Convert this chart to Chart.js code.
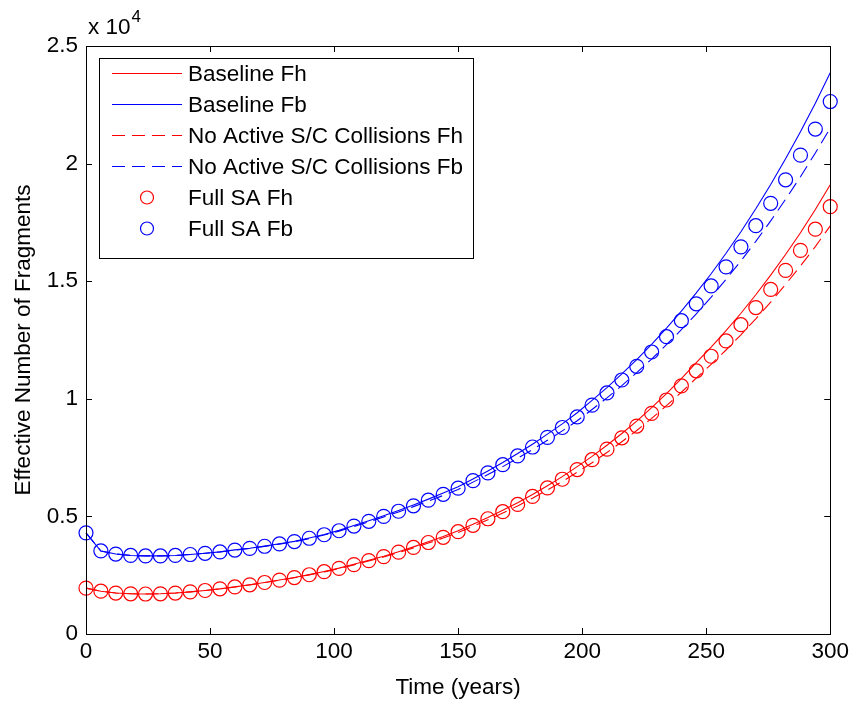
<!DOCTYPE html>
<html>
<head>
<meta charset="utf-8">
<script src="https://cdn.jsdelivr.net/npm/chart.js@4.4.1/dist/chart.umd.min.js"></script>
<style>
  html, body { margin: 0; padding: 0; background: #ffffff; }
  #wrap { width: 853px; height: 703px; }
</style>
</head>
<body>
<div id="wrap"><canvas id="fragChart" width="853" height="703"></canvas></div>
<script>
// --- dados (anos, numero efectivo de fragmentos) ---
const years = [0, 6, 12, 18, 24, 30, 36, 42, 48, 54, 60, 66, 72, 78, 84, 90, 96, 102, 108, 114, 120,
  126, 132, 138, 144, 150, 156, 162, 168, 174, 180, 186, 192, 198, 204, 210, 216, 222, 228, 234, 240,
  246, 252, 258, 264, 270, 276, 282, 288, 294, 300];

const baselineFh = [1950, 1820, 1740, 1710, 1700, 1710, 1740, 1790, 1850, 1920, 2002, 2092, 2193, 2294, 2405, 2526, 2658, 2800, 2962, 3134, 3307,
  3500, 3704, 3918, 4143, 4389, 4666, 4953, 5262, 5582, 5933, 6306, 6690, 7116, 7554, 8024, 8527, 9052, 9621, 10223, 10858,
  11538, 12200, 12896, 13637, 14424, 15257, 16136, 17062, 18045, 19097];

const baselineFb = [4300, 3530, 3400, 3340, 3320, 3320, 3340, 3380, 3430, 3490, 3575, 3645, 3736, 3837, 3939, 4081, 4233, 4406, 4609, 4813, 5027,
  5252, 5488, 5734, 5991, 6259, 6589, 6929, 7291, 7675, 8070, 8497, 8935, 9406, 9930, 10477, 11057, 11669, 12316, 13007, 13732,
  14502, 15317, 16188, 17105, 18080, 19112, 20204, 21354, 22571, 23863];

const noActiveFh = [1950, 1820, 1740, 1710, 1700, 1710, 1740, 1790, 1850, 1920, 1998, 2088, 2187, 2286, 2395, 2514, 2643, 2782, 2940, 3108, 3275,
  3462, 3659, 3865, 4080, 4315, 4579, 4853, 5145, 5447, 5776, 6125, 6483, 6879, 7283, 7715, 8175, 8653, 9167, 9709, 10278,
  10883, 11466, 12075, 12720, 13400, 14115, 14863, 15648, 16473, 17352];

const noActiveFb = [4300, 3530, 3400, 3340, 3320, 3320, 3340, 3380, 3430, 3490, 3567, 3636, 3725, 3823, 3922, 4060, 4208, 4375, 4572, 4769, 4975,
  5190, 5415, 5649, 5892, 6145, 6457, 6777, 7116, 7473, 7839, 8234, 8636, 9067, 9544, 10040, 10562, 11111, 11688, 12300, 12939,
  13613, 14322, 15075, 15862, 16693, 17567, 18483, 19442, 20450, 21508];

const fullSAFh = [1950, 1820, 1740, 1710, 1700, 1710, 1740, 1790, 1850, 1920, 2000, 2090, 2190, 2290, 2400, 2520, 2650, 2790, 2950, 3120, 3290,
  3480, 3680, 3890, 4110, 4350, 4620, 4900, 5200, 5510, 5850, 6210, 6580, 6990, 7410, 7860, 8340, 8840, 9380, 9950, 10550,
  11190, 11810, 12460, 13150, 13880, 14650, 15460, 16310, 17210, 18170];

const fullSAFb = [4300, 3530, 3400, 3340, 3320, 3320, 3340, 3380, 3430, 3490, 3570, 3640, 3730, 3830, 3930, 4070, 4220, 4390, 4590, 4790, 5000,
  5220, 5450, 5690, 5940, 6200, 6520, 6850, 7200, 7570, 7950, 8360, 8780, 9230, 9730, 10250, 10800, 11380, 11990, 12640, 13320,
  14040, 14800, 15610, 16460, 17360, 18310, 19310, 20360, 21470, 22640];

const xTicks = [0, 50, 100, 150, 200, 250, 300];
const yTicks = [0, 5000, 10000, 15000, 20000, 25000];

// cores estilo MATLAB
const colors = {
    red: '#ff0000',
    blue: '#0000ff',
    axis: '#000000',
    text: '#000000'
};
const fontFamily = '"Liberation Sans", Arial, sans-serif';
const fontSize = 22.5;

function toPoints(ys) {
    return years.map((t, i) => ({ x: t, y: ys[i] }));
}

function lineSet(label, ys, color, dashed) {
    return {
        label: label,
        data: toPoints(ys),
        borderColor: color,
        backgroundColor: color,
        borderWidth: 1.1,
        borderDash: dashed ? [13, 7] : [],
        pointRadius: 0,
        tension: 0,
        fill: false,
        clip: false
    };
}

function markerSet(label, ys, color) {
    return {
        label: label,
        data: toPoints(ys),
        borderColor: color,
        backgroundColor: 'rgba(0,0,0,0)',
        borderWidth: 1.2,
        pointStyle: 'circle',
        pointRadius: 7,
        showLine: false,
        clip: false
    };
}

// caixa, marcas para dentro, legenda e o "x 10^4"
const matlabDecor = {
    id: 'matlabDecor',
    afterDatasetsDraw(chart) {
        const ctx = chart.ctx;
        const a = chart.chartArea;
        const xs = chart.scales.x;
        const ys = chart.scales.y;
        const tick = 6;

        ctx.save();
        ctx.strokeStyle = colors.axis;
        ctx.lineWidth = 1;
        ctx.setLineDash([]);
        ctx.beginPath();
        xTicks.forEach(v => {
            const px = Math.round(xs.getPixelForValue(v)) + 0.5;
            ctx.moveTo(px, a.bottom); ctx.lineTo(px, a.bottom - tick);
            ctx.moveTo(px, a.top); ctx.lineTo(px, a.top + tick);
        });
        yTicks.forEach(v => {
            const py = Math.round(ys.getPixelForValue(v)) + 0.5;
            ctx.moveTo(a.left, py); ctx.lineTo(a.left + tick, py);
            ctx.moveTo(a.right, py); ctx.lineTo(a.right - tick, py);
        });
        ctx.stroke();
        ctx.strokeRect(Math.round(a.left) + 0.5, Math.round(a.top) + 0.5,
            Math.round(a.right - a.left), Math.round(a.bottom - a.top));

        // multiplicador do eixo y
        ctx.fillStyle = colors.text;
        ctx.textBaseline = 'alphabetic';
        ctx.textAlign = 'left';
        ctx.font = fontSize + 'px ' + fontFamily;
        ctx.fillText('x 10', a.left + 2, a.top - 12);
        const w = ctx.measureText('x 10').width;
        ctx.font = Math.round(fontSize * 0.75) + 'px ' + fontFamily;
        ctx.fillText('4', a.left + 3 + w, a.top - 24);

        // legenda
        const box = { x: 99.5, y: 58.5, w: 374, h: 200 };
        ctx.fillStyle = '#ffffff';
        ctx.fillRect(box.x, box.y, box.w, box.h);
        ctx.strokeStyle = colors.axis;
        ctx.strokeRect(box.x, box.y, box.w, box.h);

        ctx.font = fontSize + 'px ' + fontFamily;
        ctx.textBaseline = 'middle';
        chart.data.datasets.forEach((ds, i) => {
            const cy = 73.5 + i * 31;
            ctx.strokeStyle = ds.borderColor;
            if (ds.showLine === false) {
                ctx.setLineDash([]);
                ctx.lineWidth = 1.2;
                ctx.beginPath();
                ctx.arc(147, cy, 6.5, 0, Math.PI * 2);
                ctx.stroke();
            } else {
                ctx.lineWidth = 1.2;
                ctx.setLineDash(ds.borderDash || []);
                ctx.beginPath();
                ctx.moveTo(112, cy);
                ctx.lineTo(182, cy);
                ctx.stroke();
            }
            ctx.setLineDash([]);
            ctx.fillStyle = colors.text;
            ctx.fillText(ds.label, 188, cy + 1);
        });
        ctx.restore();
    }
};

const ctx = document.getElementById('fragChart');
new Chart(ctx, {
    type: 'line',
    data: {
        datasets: [
            lineSet('Baseline Fh', baselineFh, colors.red, false),
            lineSet('Baseline Fb', baselineFb, colors.blue, false),
            lineSet('No Active S/C Collisions Fh', noActiveFh, colors.red, true),
            lineSet('No Active S/C Collisions Fb', noActiveFb, colors.blue, true),
            markerSet('Full SA Fh', fullSAFh, colors.red),
            markerSet('Full SA Fb', fullSAFb, colors.blue)
        ]
    },
    options: {
        responsive: false,
        animation: false,
        layout: { padding: { left: 0, right: 22, top: 46, bottom: 0 } },
        plugins: {
            legend: { display: false },
            tooltip: { enabled: false },
            title: { display: false }
        },
        scales: {
            x: {
                type: 'linear',
                min: 0,
                max: 300,
                afterFit(scale) { scale.height = 69; },
                afterBuildTicks(scale) { scale.ticks = xTicks.map(v => ({ value: v })); },
                ticks: {
                    color: colors.text,
                    font: { family: fontFamily, size: fontSize },
                    padding: 4,
                    maxRotation: 0
                },
                grid: { display: false, drawTicks: false },
                border: { display: false },
                title: {
                    display: true,
                    text: 'Time (years)',
                    color: colors.text,
                    font: { family: fontFamily, size: fontSize },
                    padding: { top: 0, bottom: 2 }
                }
            },
            y: {
                type: 'linear',
                min: 0,
                max: 25000,
                afterFit(scale) { scale.width = 86; },
                afterBuildTicks(scale) { scale.ticks = yTicks.map(v => ({ value: v })); },
                ticks: {
                    color: colors.text,
                    font: { family: fontFamily, size: fontSize },
                    padding: 8,
                    callback: function(value) { return String(value / 10000); }
                },
                grid: { display: false, drawTicks: false },
                border: { display: false },
                title: {
                    display: true,
                    text: 'Effective Number of Fragments',
                    color: colors.text,
                    font: { family: fontFamily, size: fontSize },
                    padding: { top: 10, bottom: 0 }
                }
            }
        }
    },
    plugins: [matlabDecor]
});
</script>
</body>
</html>
